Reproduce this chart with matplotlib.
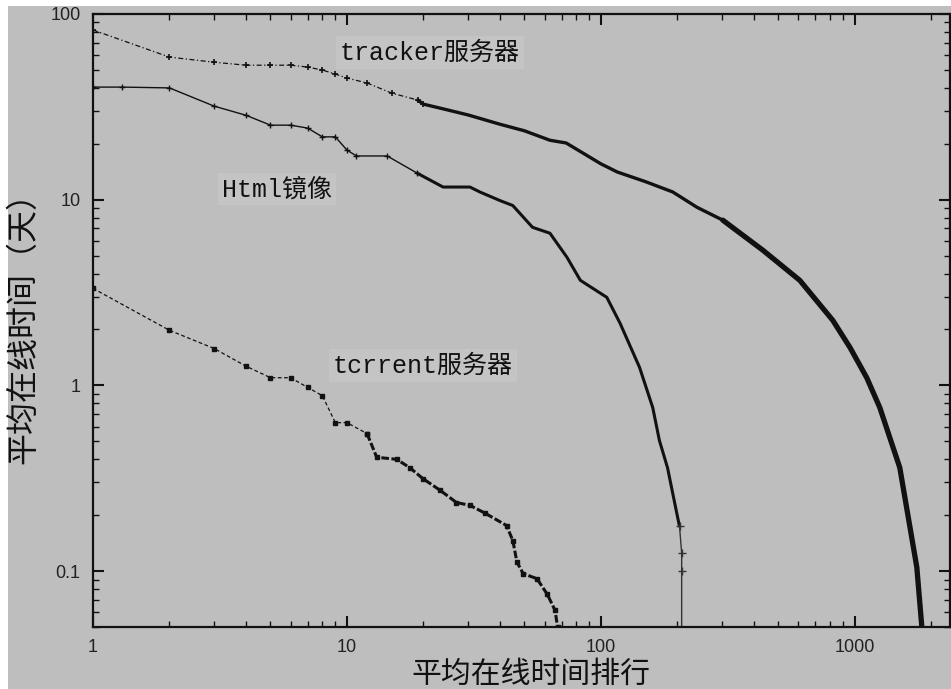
import matplotlib.pyplot as plt
from matplotlib.patches import Rectangle
from matplotlib.ticker import FixedLocator, FixedFormatter, LogLocator, NullFormatter

# values (rank vs. mean online days)
tracker_rank = [1, 2, 3, 4, 5, 6, 7, 8, 9, 10, 12, 15, 19, 20, 25, 30, 40, 50, 63, 73,
                100, 116, 150, 192, 239, 302, 434, 607, 819, 957, 1114, 1254, 1503, 1754, 1836]
tracker_days = [82, 58.6, 55, 53, 53, 53, 51.8, 49.9, 47.5, 45.2, 42.5, 37.5, 34.4, 32.7, 30.4, 28.6,
                25.5, 23.5, 20.9, 20.2, 15.6, 14.1, 12.5, 11.0, 9.1, 7.76, 5.35, 3.68, 2.24, 1.60,
                1.10, 0.76, 0.361, 0.105, 0.05]

html_rank = [1, 1.3, 2, 3, 4, 5, 6, 7, 8, 9, 10, 10.9, 14.4, 18.9, 23.9, 30.5, 33.4, 40, 45,
             53.8, 63, 73.5, 83, 105.5, 119, 142, 160, 170, 183, 198, 204, 208, 208, 208]
html_days = [40.4, 40.4, 40, 31.9, 28.5, 25.2, 25.2, 24.3, 21.8, 21.8, 18.5, 17.2, 17.2, 13.9, 11.7,
             11.7, 11.0, 9.9, 9.3, 7.1, 6.6, 4.9, 3.68, 2.98, 2.16, 1.25, 0.76, 0.505, 0.36, 0.212,
             0.174, 0.125, 0.1, 0.01]

torrent_rank = [1, 2, 3, 4, 5, 6, 7, 8, 9, 10, 12, 13.1, 15.7, 17.7, 19.9, 23.3, 27, 30.5, 35,
                42.5, 45, 46.7, 49.4, 56, 61.5, 66, 67.5]
torrent_days = [3.33, 1.98, 1.58, 1.27, 1.10, 1.10, 0.976, 0.88, 0.63, 0.63, 0.55, 0.41, 0.40, 0.36,
                0.315, 0.272, 0.234, 0.226, 0.205, 0.176, 0.146, 0.112, 0.097, 0.091, 0.075, 0.0615, 0.05]

x_ticks = [1, 10, 100, 1000]
x_labels = ['1', '10', '100', '1000']
y_ticks = [0.1, 1, 10, 100]
y_labels = ['0.1', '1', '10', '100']

bg = '#bebebe'
box_bg = '#c4c4c4'
ink = '#111111'
cjk = ['Noto Sans CJK SC', 'DejaVu Sans']
mono_cjk = ['Liberation Mono', 'Noto Sans CJK SC']

fig = plt.figure(figsize=(9.51, 6.89), dpi=100, facecolor='white')
# grey canvas with a thin white margin on the top and left
fig.patches.append(Rectangle((8 / 951, 0), 1, 1 - 6 / 689, transform=fig.transFigure,
                             facecolor=bg, edgecolor='none', zorder=-10))

ax = fig.add_axes([93 / 951, 62 / 689, 857 / 951, 613 / 689])
ax.set_facecolor(bg)
ax.set_xscale('log')
ax.set_yscale('log')
ax.set_xlim(1, 2370)
ax.set_ylim(0.05, 100)

# tracker: sparse dash-dot head, dense thick tail
ax.plot(tracker_rank[:14], tracker_days[:14], color=ink, lw=0.9, ls=(0, (4, 2, 1, 2)),
        marker='+', ms=5, mew=1.2)
ax.plot(tracker_rank[12:26], tracker_days[12:26], color=ink, lw=2.4, solid_capstyle='round')
ax.plot(tracker_rank[25:], tracker_days[25:], color=ink, lw=3.8, solid_capstyle='round')

# Html mirror: thin solid line with plus markers, thicker where points crowd
ax.plot(html_rank[:14], html_days[:14], color=ink, lw=1.0, marker='+', ms=5, mew=1.0)
ax.plot(html_rank[13:31], html_days[13:31], color=ink, lw=2.2, solid_capstyle='round')
ax.plot(html_rank[30:], html_days[30:], color='#333333', lw=1.0, marker='+', ms=6, mew=1.0)

# torrent: dashed line with small squares
ax.plot(torrent_rank[:11], torrent_days[:11], color=ink, lw=0.9, ls=(0, (3, 2)),
        marker='s', ms=3.5)
ax.plot(torrent_rank[10:], torrent_days[10:], color=ink, lw=2.2, ls=(0, (2.5, 0.8)),
        marker='s', ms=3.5)

box = dict(facecolor=box_bg, edgecolor='none', pad=3)
ax.text(9.39, 62, 'tracker服务器', family=mono_cjk, fontsize=18, color=ink,
        va='center', ha='left', bbox=box)
ax.text(3.22, 11.4, 'Html镜像', family=mono_cjk, fontsize=18, color=ink,
        va='center', ha='left', bbox=box)
ax.text(8.81, 1.28, 'tcrrent服务器', family=mono_cjk, fontsize=18, color=ink,
        va='center', ha='left', bbox=box)

ax.xaxis.set_major_locator(FixedLocator(x_ticks))
ax.xaxis.set_major_formatter(FixedFormatter(x_labels))
ax.yaxis.set_major_locator(FixedLocator(y_ticks))
ax.yaxis.set_major_formatter(FixedFormatter(y_labels))
ax.xaxis.set_minor_locator(LogLocator(base=10, subs=range(2, 10)))
ax.yaxis.set_minor_locator(LogLocator(base=10, subs=range(2, 10)))
ax.xaxis.set_minor_formatter(NullFormatter())
ax.yaxis.set_minor_formatter(NullFormatter())

ax.tick_params(which='both', direction='in', top=True, right=True, color=ink)
ax.tick_params(which='major', length=8, width=1.5, labelsize=13, labelcolor='#222222', pad=9)
ax.tick_params(which='minor', length=4, width=1.0)
for lab in ax.get_xticklabels() + ax.get_yticklabels():
    lab.set_family('Liberation Sans')

for s in ax.spines.values():
    s.set_linewidth(1.6)
    s.set_color(ink)

ax.set_xlabel('平均在线时间排行', family=cjk, fontsize=21.5, color=ink)
ax.set_ylabel('平均在线时间（天）', family=cjk, fontsize=23, color=ink)
ax.xaxis.set_label_coords(0.511, -0.052)
ax.yaxis.set_label_coords(-0.063, 0.50)

plt.savefig('out.png', dpi=100, facecolor=fig.get_facecolor())
print('plot saved as "out.png"')
